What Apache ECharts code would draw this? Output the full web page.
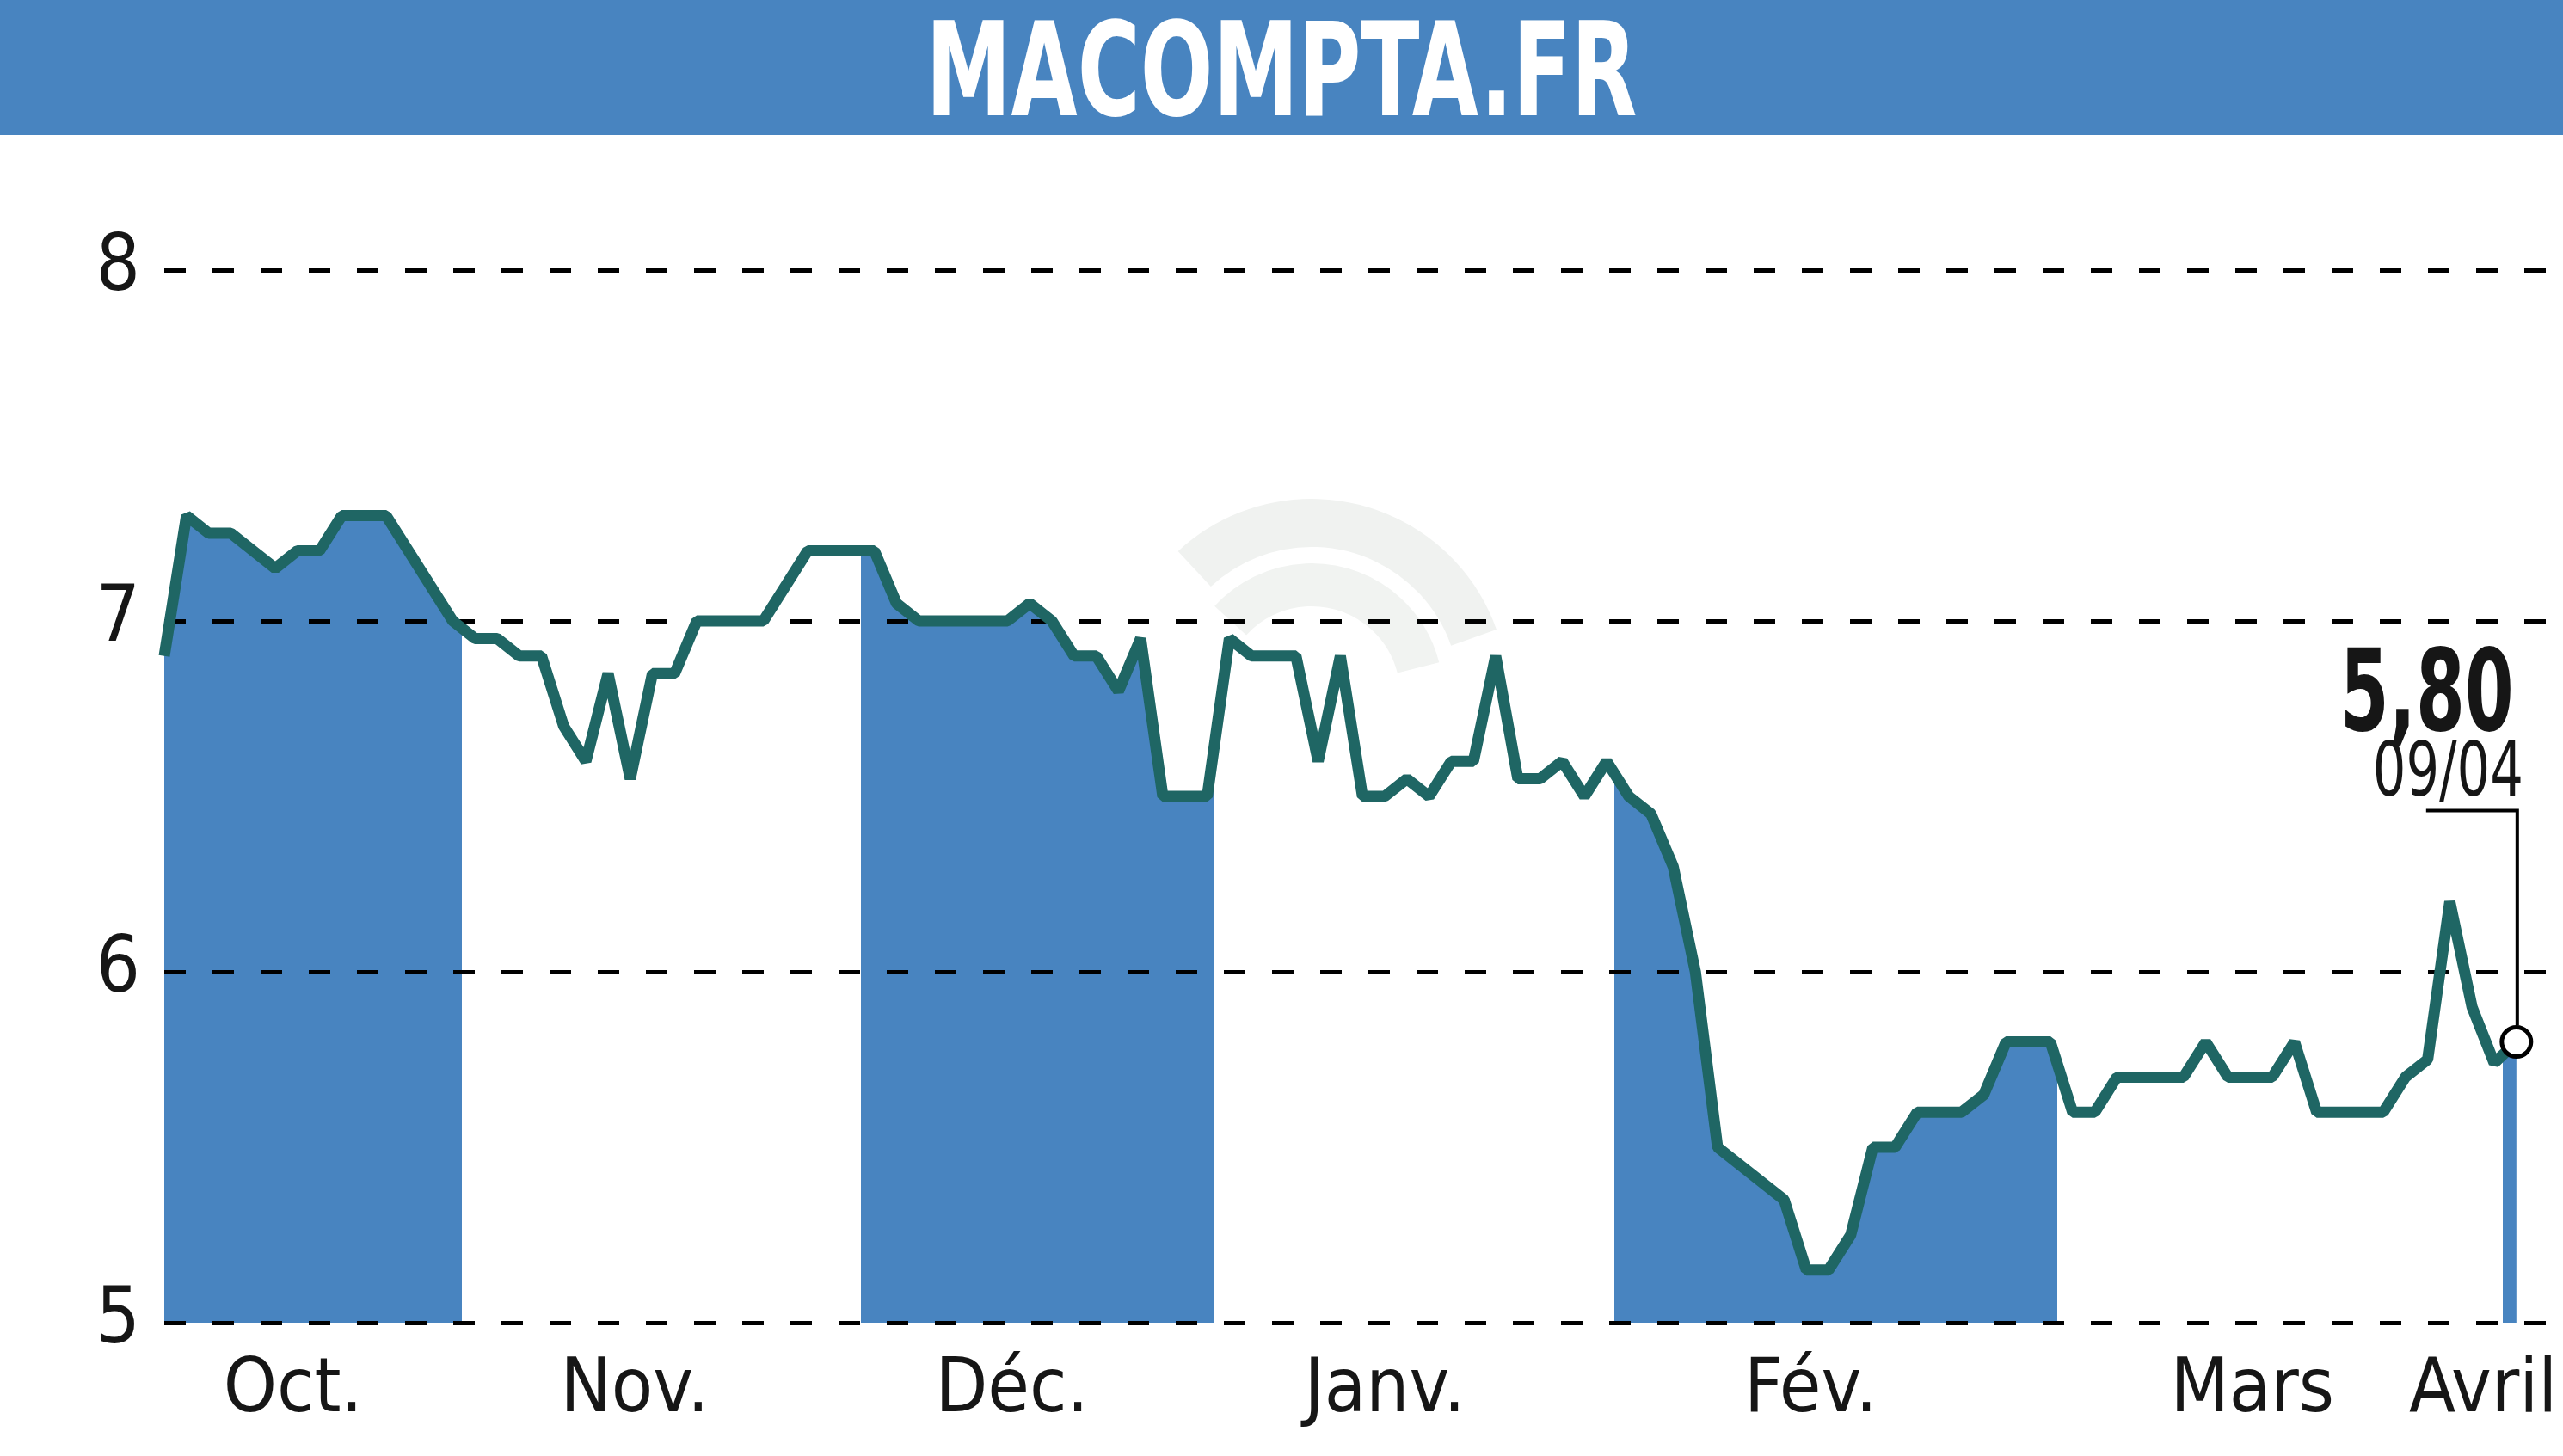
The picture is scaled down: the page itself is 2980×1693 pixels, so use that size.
<!DOCTYPE html>
<html>
<head>
<meta charset="utf-8">
<script src="https://cdn.jsdelivr.net/npm/echarts@6/dist/echarts.min.js"></script>
<style>
html,body{margin:0;padding:0;background:#fff;}
#chart{width:2980px;height:1693px;}
</style>
</head>
<body>
<div id="chart"></div>
<script>
// ---------------- DATA ----------------
const chartTitle = 'MACOMPTA.FR';
// one slot per trading session (index = session number); null = no quote that session
const prices = [
  6.9, 7.3, 7.25, 7.25, null, 7.15, 7.2, 7.2, 7.3, null,
  7.3, null, null, 7.0, 6.95, 6.95, 6.9, 6.9, 6.7, 6.6,
  6.85, 6.55, 6.85, 6.85, 7.0, null, null, 7.0, null, 7.2,
  null, null, 7.2, 7.05, 7.0, null, null, null, 7.0, 7.05,
  7.0, 6.9, 6.9, 6.8, 6.95, 6.5, null, 6.5, 6.95, 6.9,
  null, 6.9, 6.6, 6.9, 6.5, 6.5, 6.55, 6.5, 6.6, 6.6,
  6.9, 6.55, 6.55, 6.6, 6.5, 6.6, 6.5, 6.45, 6.3, 6.0,
  5.5, null, null, 5.35, 5.15, 5.15, 5.25, 5.5, 5.5, 5.6,
  null, 5.6, 5.65, 5.8, null, 5.8, 5.6, 5.6, 5.7, null,
  null, 5.7, 5.8, 5.7, null, 5.7, 5.8, 5.6, null, null,
  5.6, 5.7, 5.75, 6.2, 5.9, 5.74, 5.8
];
const monthNames   = ['Oct.', 'Nov.', 'Déc.', 'Janv.', 'Fév.', 'Mars', 'Avril'];
const monthStarts  = [0, 13.4, 31.4, 47.3, 65.35, 85.3, 105.4];   // session index where each month begins
const monthLabelAt = [5.8, 21.2, 38.2, 55.0, 74.2, 94.1, 104.5];  // session index under each month name
const yTicks = [5, 6, 7, 8];
const lastDate = '09/04';

// ---------------- STYLE ----------------
const BLUE = '#4884c0';
const TEAL = '#1f6664';
const INK = '#161616';
const NARROW = '"Liberation Sans Narrow","DejaVu Sans Condensed","Roboto Condensed",sans-serif';

const points = [];
prices.forEach((v, i) => { if (v !== null) points.push([i, v]); });
const lastPt = points[points.length - 1];

// shaded months: every other month (Oct, Déc, Fév, Avril)
const pieces = [];
for (let m = 0; m < monthNames.length; m += 2) {
  const start = m === 0 ? -10 : monthStarts[m];
  const end = m + 1 < monthStarts.length ? monthStarts[m + 1] : 1000;
  pieces.push({ gte: start, lt: end, color: BLUE });
}

function fitScale(text, font, targetWidth) {
  const ctx = document.createElement('canvas').getContext('2d');
  ctx.font = font;
  return targetWidth / ctx.measureText(text).width;
}

const chart = echarts.init(document.getElementById('chart'), null, { renderer: 'canvas' });

const titleFont = 'bold 152px ' + NARROW;
const option = {
  animation: false,
  backgroundColor: '#ffffff',
  grid: { left: 191, right: 0, top: 314, bottom: 155, containLabel: false },
  xAxis: {
    type: 'value',
    min: 0,
    max: 108.1,
    axisLine: { show: false },
    axisTick: { show: false },
    splitLine: { show: false },
    axisLabel: {
      customValues: monthLabelAt,
      formatter: function (v) {
        let best = 0;
        for (let i = 1; i < monthLabelAt.length; i++) {
          if (Math.abs(monthLabelAt[i] - v) < Math.abs(monthLabelAt[best] - v)) best = i;
        }
        return monthNames[best];
      },
      fontFamily: NARROW,
      fontSize: 88,
      color: INK,
      margin: 36
    }
  },
  yAxis: {
    type: 'value',
    min: yTicks[0],
    max: yTicks[yTicks.length - 1],
    interval: 1,
    z: 2,
    axisLine: { show: false },
    axisTick: { show: false },
    axisLabel: { fontFamily: NARROW, fontSize: 90, color: INK, margin: 28, padding: [0, 0, 16, 0] },
    splitLine: { show: true, lineStyle: { color: '#000', width: 5, type: [25, 31] } }
  },
  visualMap: {
    type: 'piecewise',
    show: false,
    dimension: 0,
    seriesIndex: 0,
    pieces: pieces,
    outOfRange: { color: 'rgba(255,255,255,0)' }
  },
  graphic: [
    { type: 'rect', id: 'bar', z: 10, shape: { x: 0, y: 0, width: 2980, height: 157 }, style: { fill: BLUE } },
    {
      type: 'text', id: 'title', z: 11, x: 1490, y: 95,
      scaleX: fitScale(chartTitle, titleFont, 827),
      style: { text: chartTitle, font: titleFont, fill: '#ffffff', align: 'center', verticalAlign: 'middle' }
    },
    {
      type: 'arc', id: 'wm1', z: -1,
      shape: { cx: 1525, cy: 808, r: 200, startAngle: -2.32, endAngle: -0.34, clockwise: true },
      style: { stroke: '#f0f2f0', lineWidth: 56, fill: null }
    },
    {
      type: 'arc', id: 'wm2', z: -1,
      shape: { cx: 1525, cy: 808, r: 128, startAngle: -2.4, endAngle: -0.25, clockwise: true },
      style: { stroke: '#f1f3f1', lineWidth: 50, fill: null }
    }
  ],
  series: [
    {
      type: 'line',
      z: 1,
      data: points,
      showSymbol: false,
      silent: true,
      lineStyle: { width: 0, opacity: 0 },
      areaStyle: { opacity: 1, origin: 'start' }
    },
    {
      type: 'line',
      z: 3,
      data: points,
      showSymbol: false,
      silent: true,
      lineStyle: { color: TEAL, width: 13, join: 'bevel' }
    },
    {
      type: 'scatter',
      z: 5,
      data: [lastPt],
      symbol: 'circle',
      symbolSize: 34,
      silent: true,
      itemStyle: { color: '#ffffff', borderColor: '#000', borderWidth: 5, opacity: 1 }
    }
  ]
};
chart.setOption(option);

// ----- last value annotation, anchored to the last point through the chart's scales -----
const p = chart.convertToPixel({ gridIndex: 0 }, lastPt);
const valueText = lastPt[1].toFixed(2).replace('.', ',');
const valFont = 'bold 132px ' + NARROW;
const dateFont = '88px ' + NARROW;
chart.setOption({
  graphic: [
    {
      type: 'polyline', id: 'leader', z: 6,
      shape: { points: [[p[0] - 105, p[1] - 269], [p[0] + 1, p[1] - 269], [p[0] + 1, p[1] - 19]] },
      style: { stroke: '#000', lineWidth: 4, fill: null }
    },
    {
      type: 'text', id: 'val', z: 6, x: p[0] - 3, y: p[1] - 397,
      scaleX: fitScale(valueText, valFont, 202),
      style: { text: valueText, font: valFont, fill: INK, align: 'right', verticalAlign: 'middle' }
    },
    {
      type: 'text', id: 'date', z: 6, x: p[0] + 8, y: p[1] - 309,
      scaleX: fitScale(lastDate, dateFont, 175),
      style: { text: lastDate, font: dateFont, fill: INK, align: 'right', verticalAlign: 'middle' }
    }
  ]
});
</script>
</body>
</html>
